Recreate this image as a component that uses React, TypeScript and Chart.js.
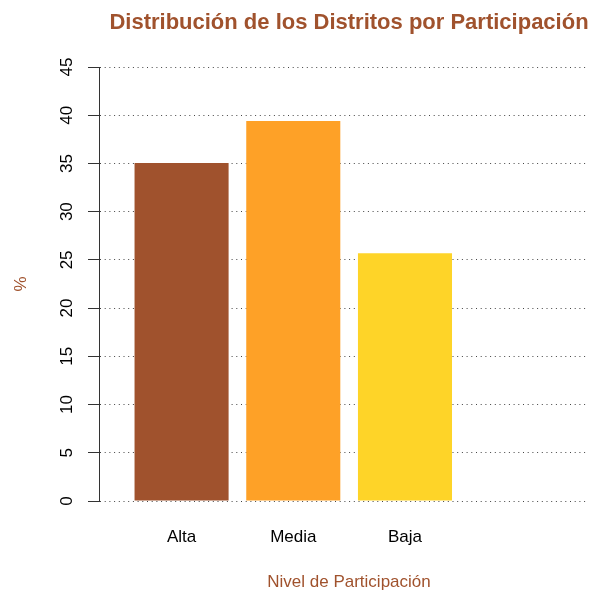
import React, { useEffect, useRef } from "react";
import { Chart, registerables } from "chart.js";

Chart.register(...registerables);

const categories = ["Alta", "Media", "Baja"];
const values = [35.05, 39.4, 25.7];
const barColors = ["#A0522D", "#FEA127", "#FED428"];
const yTicks = [0, 5, 10, 15, 20, 25, 30, 35, 40, 45];

const titleText = "Distribución de los Distritos por Participación";
const xTitleText = "Nivel de Participación";
const yTitleText = "%";
const accent = "#A0522D";
const FONT = "'Liberation Sans', Arial, Helvetica, sans-serif";

// R barplot spacing: width 1, space 0.2
const barPos = (i: number) => 0.2 + i * 1.2 + 0.5;

const textPlugin = {
  id: "rTexts",
  afterDraw(chart: any) {
    const ctx = chart.ctx;
    ctx.save();
    ctx.fillStyle = accent;
    ctx.textAlign = "center";
    ctx.textBaseline = "alphabetic";
    ctx.font = `bold 22px ${FONT}`;
    ctx.fillText(titleText, 349, 28.5);
    ctx.font = `17px ${FONT}`;
    ctx.fillText(xTitleText, 349, 587);
    ctx.restore();
  },
};

export default function App() {
  const ref = useRef<HTMLCanvasElement | null>(null);
  useEffect(() => {
    if (!ref.current) return;
    const chart = new Chart(ref.current, {
      type: "bar",
      data: {
        datasets: [
          {
            data: values.map((v, i) => ({ x: barPos(i), y: v })),
            backgroundColor: barColors,
            borderWidth: 0,
            categoryPercentage: 1,
            barPercentage: 0.842,
          },
        ],
      },
      options: {
        animation: false,
        responsive: false,
        devicePixelRatio: 1,
        layout: { padding: { left: 0, right: 3, top: 67, bottom: 0 } },
        plugins: {
          legend: { display: false },
          tooltip: { enabled: false },
          title: { display: false },
        },
        scales: {
          x: {
            type: "linear",
            offset: false,
            min: -0.187,
            max: 5.066,
            grid: { display: false, drawTicks: false, offset: false },
            border: { display: false },
            afterBuildTicks: (s: any) => {
              s.ticks = categories.map((_, i) => ({ value: barPos(i) }));
            },
            afterFit: (s: any) => {
              s.height = 90;
            },
            ticks: {
              autoSkip: false,
              maxRotation: 0,
              minRotation: 0,
              padding: 26,
              color: "#000",
              font: { family: FONT, size: 17 },
              callback: (_v: any, i: number) => categories[i],
            },
          },
          y: {
            type: "linear",
            min: 0,
            max: 45,
            afterBuildTicks: (s: any) => {
              s.ticks = yTicks.map((v) => ({ value: v }));
            },
            afterFit: (s: any) => {
              s.width = 99;
            },
            border: { display: true, color: "#333", width: 1, dash: [1, 3.7] },
            grid: {
              display: true,
              drawOnChartArea: true,
              drawTicks: true,
              tickLength: 11,
              color: "#444",
              lineWidth: 1,
              tickColor: "#333",
              tickWidth: 1,
              tickBorderDash: [],
            },
            ticks: {
              autoSkip: false,
              minRotation: 90,
              maxRotation: 90,
              crossAlign: "center",
              padding: 11,
              color: "#000",
              font: { family: FONT, size: 17 },
            },
            title: {
              display: true,
              text: yTitleText,
              color: accent,
              font: { family: FONT, size: 17 },
              padding: { top: 11, bottom: 0 },
            },
          },
        },
      } as any,
      plugins: [textPlugin],
    });
    return () => chart.destroy();
  }, []);
  return (
    <div style={{ position: "fixed", left: 0, top: 0, width: 591, height: 591, background: "#fff" }}>
      <canvas ref={ref} width={591} height={591} style={{ display: "block" }} />
    </div>
  );
}
